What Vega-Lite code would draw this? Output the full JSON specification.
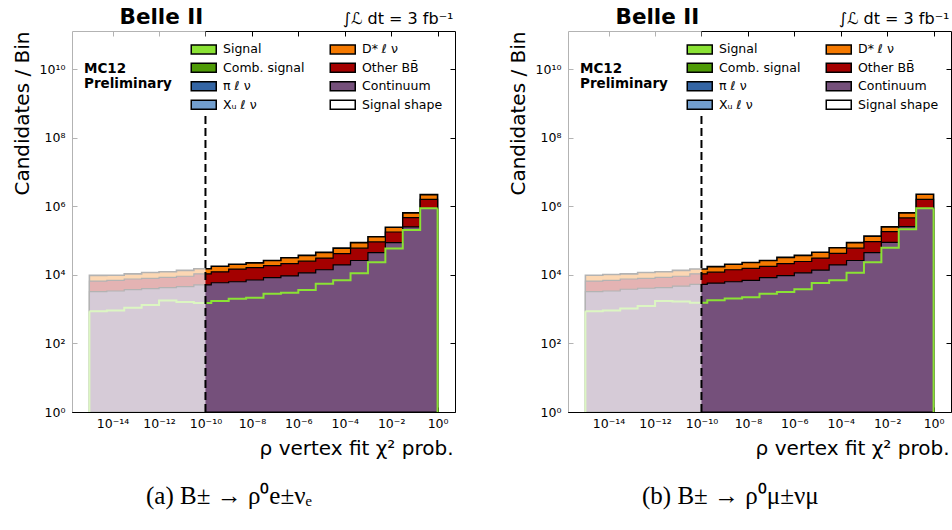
{
  "$schema": "https://vega.github.io/schema/vega-lite/v6.json",
  "background": "white",
  "padding": {"left": 11, "top": 5, "right": 0, "bottom": 0},
  "spacing": 51,
  "config": {
    "view": {"stroke": "#000", "strokeWidth": 1},
    "font": "DejaVu Sans",
    "axis": {"grid": false, "domain": false, "tickColor": "#000", "tickSize": -5, "tickWidth": 1, "labelFont": "DejaVu Sans", "labelFontSize": 12.5, "labelColor": "#000", "titleFont": "DejaVu Sans", "titleFontSize": 20, "titleFontWeight": "normal", "titleColor": "#000"}
  },
  "resolve": {"scale": {"fill": "independent"}},
  "datasets": {
    "a": [
      {"lo": 1e-15, "hi": 5.623e-15, "cont": 3236, "bb": 3371, "dst": 3054, "shape": 871},
      {"lo": 5.623e-15, "hi": 3.162e-14, "cont": 3388, "bb": 3530, "dst": 2854, "shape": 912},
      {"lo": 3.162e-14, "hi": 1.778e-13, "cont": 3715, "bb": 3871, "dst": 3129, "shape": 1096},
      {"lo": 1.778e-13, "hi": 1e-12, "cont": 3981, "bb": 3962, "dst": 3806, "shape": 1318},
      {"lo": 1e-12, "hi": 5.623e-12, "cont": 4266, "bb": 4245, "dst": 3792, "shape": 1778},
      {"lo": 5.623e-12, "hi": 3.162e-11, "cont": 4571, "bb": 4549, "dst": 4370, "shape": 1622},
      {"lo": 3.162e-11, "hi": 1.778e-10, "cont": 5129, "bb": 5586, "dst": 4421, "shape": 1514},
      {"lo": 1.778e-10, "hi": 1e-9, "cont": 5888, "bb": 6415, "dst": 5480, "shape": 1738},
      {"lo": 1e-9, "hi": 5.623e-9, "cont": 6310, "bb": 8481, "dst": 5626, "shape": 1995},
      {"lo": 5.623e-9, "hi": 3.162e-8, "cont": 7079, "bb": 9139, "dst": 6169, "shape": 2138},
      {"lo": 3.162e-8, "hi": 1.778e-7, "cont": 8318, "bb": 10303, "dst": 7682, "shape": 2818},
      {"lo": 1.778e-7, "hi": 1e-6, "cont": 9333, "bb": 12047, "dst": 10243, "shape": 3020},
      {"lo": 1e-6, "hi": 5.623e-6, "cont": 11482, "bb": 13637, "dst": 12035, "shape": 3631},
      {"lo": 5.623e-6, "hi": 3.162e-5, "cont": 14125, "bb": 16778, "dst": 14283, "shape": 5495},
      {"lo": 3.162e-5, "hi": 1.778e-4, "cont": 19498, "bb": 22189, "dst": 18569, "shape": 6918},
      {"lo": 1.778e-4, "hi": 1e-3, "cont": 26303, "bb": 33953, "dst": 26840, "shape": 11220},
      {"lo": 1e-3, "hi": 5.623e-3, "cont": 44668, "bb": 46533, "dst": 37624, "shape": 23442},
      {"lo": 5.623e-3, "hi": 3.162e-2, "cont": 87096, "bb": 90732, "dst": 67643, "shape": 58884},
      {"lo": 3.162e-2, "hi": 0.1778, "cont": 251189, "bb": 216546, "dst": 177919, "shape": 204174},
      {"lo": 0.1778, "hi": 1, "cont": 870964, "bb": 713929, "dst": 602869, "shape": 870964}
    ],
    "b": [
      {"lo": 1e-15, "hi": 5.623e-15, "cont": 3236, "bb": 3371, "dst": 3165, "shape": 871},
      {"lo": 5.623e-15, "hi": 3.162e-14, "cont": 3388, "bb": 3530, "dst": 3315, "shape": 912},
      {"lo": 3.162e-14, "hi": 1.778e-13, "cont": 3802, "bb": 3784, "dst": 3129, "shape": 1047},
      {"lo": 1.778e-13, "hi": 1e-12, "cont": 4074, "bb": 3869, "dst": 3806, "shape": 1230},
      {"lo": 1e-12, "hi": 5.623e-12, "cont": 4266, "bb": 4245, "dst": 3792, "shape": 1738},
      {"lo": 5.623e-12, "hi": 3.162e-11, "cont": 4677, "bb": 4443, "dst": 4370, "shape": 1660},
      {"lo": 3.162e-11, "hi": 1.778e-10, "cont": 5248, "bb": 5467, "dst": 4076, "shape": 1549},
      {"lo": 1.778e-10, "hi": 1e-9, "cont": 5754, "bb": 6269, "dst": 5355, "shape": 1820},
      {"lo": 1e-9, "hi": 5.623e-9, "cont": 6310, "bb": 7815, "dst": 6292, "shape": 2042},
      {"lo": 5.623e-9, "hi": 3.162e-8, "cont": 6918, "bb": 8570, "dst": 7421, "shape": 2239},
      {"lo": 3.162e-8, "hi": 1.778e-7, "cont": 8318, "bb": 9465, "dst": 8520, "shape": 2818},
      {"lo": 1.778e-7, "hi": 1e-6, "cont": 9550, "bb": 11830, "dst": 10979, "shape": 3162},
      {"lo": 1e-6, "hi": 5.623e-6, "cont": 11482, "bb": 13065, "dst": 12607, "shape": 3802},
      {"lo": 5.623e-6, "hi": 3.162e-5, "cont": 13804, "bb": 17099, "dst": 14806, "shape": 5754},
      {"lo": 3.162e-5, "hi": 1.778e-4, "cont": 19498, "bb": 23160, "dst": 19002, "shape": 6918},
      {"lo": 1.778e-4, "hi": 1e-3, "cont": 26303, "bb": 33953, "dst": 26840, "shape": 11482},
      {"lo": 1e-3, "hi": 5.623e-3, "cont": 44668, "bb": 48657, "dst": 41571, "shape": 23442},
      {"lo": 5.623e-3, "hi": 3.162e-2, "cont": 89125, "bb": 92845, "dst": 69219, "shape": 61660},
      {"lo": 3.162e-2, "hi": 0.1778, "cont": 257040, "bb": 200048, "dst": 188566, "shape": 213796},
      {"lo": 0.1778, "hi": 1, "cont": 870964, "bb": 713929, "dst": 653828, "shape": 870964}
    ]
  },
  "hconcat": [
    {
      "width": 383, "height": 381,
      "data": {"name": "a"},
      "title": {"text": "(a) B± → ρ⁰e±νₑ", "orient": "bottom", "anchor": "start", "frame": "group", "dx": 74, "offset": 26, "font": "Liberation Serif", "fontSize": 25, "fontWeight": "normal", "color": "#000"},
      "resolve": {"axis": {"x": "independent", "y": "independent"}},
      "layer": [
        {
          "transform": [
            {"fold": ["cont", "bb", "dst"], "as": ["comp", "n"]},
            {"stack": "n", "groupby": ["lo"], "as": ["c0", "c1"]},
            {"filter": {"field": "comp", "equal": "dst"}},
            {"fold": ["lo", "hi"], "as": ["edge", "ex"]}
          ],
          "mark": {"type": "area", "stroke": "#000", "strokeWidth": 1.6, "interpolate": "linear"},
          "encoding": {
            "x": {"field": "ex", "type": "quantitative", "scale": {"type": "log", "domain": [1.778e-16, 5.623], "nice": false},
                  "axis": {"orient": "bottom", "values": [1e-14, 1e-12, 1e-10, 1e-8, 1e-6, 1e-4, 1e-2, 1], "labelPadding": 10, "labelExpr": "'10' + replace(replace(replace(replace(replace(replace(replace('' + round(log(datum.value) / LN10), '-', '⁻'), '0', '⁰'), '1', '¹'), '2', '²'), '4', '⁴'), '6', '⁶'), '8', '⁸')", "title": "ρ vertex fit χ² prob.", "titleAlign": "right", "titleBaseline": "alphabetic", "titleX": 381, "titleY": 42}},
            "y": {"field": "c1", "type": "quantitative", "stack": null, "scale": {"type": "log", "domain": [1, 1.3e11], "nice": false},
                  "axis": {"orient": "left", "values": [1, 100, 10000, 1000000, 100000000, 10000000000], "labelPadding": 12, "labelExpr": "'10' + replace(replace(replace(replace(replace(replace(replace('' + round(log(datum.value) / LN10), '-', '⁻'), '0', '⁰'), '1', '¹'), '2', '²'), '4', '⁴'), '6', '⁶'), '8', '⁸')", "title": "Candidates / Bin", "titleAngle": 270, "titleAlign": "right", "titleBaseline": "alphabetic", "titleX": -44, "titleY": 0}},
            "y2": {"datum": 1},
            "order": [{"field": "lo", "type": "quantitative"}, {"field": "edge", "type": "nominal", "sort": "descending"}],
            "fill": {"field": "comp", "type": "nominal",
                     "scale": {"domain": ["sig", "comb", "pi", "xu", "dst", "bb", "cont", "shape"], "range": ["#8ae234", "#4e9a06", "#3465a4", "#729fcf", "#f57900", "#a40000", "#75507b", "#ffffff"]},
                     "legend": {"orient": "none", "legendX": 118, "legendY": 12, "columns": 2, "columnPadding": 22, "rowPadding": 2.5, "padding": 0, "title": null, "symbolType": "M-2.5,-0.9H2.5V0.9H-2.5Z", "symbolSize": 100, "symbolOffset": 7.5, "labelOffset": 13, "labelFont": "DejaVu Sans", "labelFontSize": 12.5, "labelColor": "#000", "labelLimit": 200,
                                "labelExpr": "datum.value == 'sig' ? 'Signal' : datum.value == 'comb' ? 'Comb. signal' : datum.value == 'pi' ? 'π ℓ ν' : datum.value == 'xu' ? 'Xᵤ ℓ ν' : datum.value == 'dst' ? 'D* ℓ ν' : datum.value == 'bb' ? 'Other BB\u0304' : datum.value == 'cont' ? 'Continuum' : 'Signal shape'",
                                "encode": {"symbols": {"update": {"stroke": {"signal": "datum.value == 'shape' ? '#8ae234' : '#222'"}, "strokeWidth": {"signal": "datum.value == 'shape' ? 2 : 0.8"}, "opacity": {"value": 1}}}}}}
          }
        },
        {
          "transform": [
            {"fold": ["cont", "bb", "dst"], "as": ["comp", "n"]},
            {"stack": "n", "groupby": ["lo"], "as": ["c0", "c1"]},
            {"filter": {"field": "comp", "equal": "bb"}},
            {"fold": ["lo", "hi"], "as": ["edge", "ex"]}
          ],
          "mark": {"type": "area", "stroke": "#000", "strokeWidth": 1.2, "interpolate": "linear"},
          "encoding": {
            "x": {"field": "ex", "type": "quantitative", "scale": {"type": "log", "domain": [1.778e-16, 5.623], "nice": false}, "axis": null},
            "y": {"field": "c1", "type": "quantitative", "stack": null, "scale": {"type": "log", "domain": [1, 1.3e11], "nice": false}, "axis": null},
            "y2": {"datum": 1},
            "order": [{"field": "lo", "type": "quantitative"}, {"field": "edge", "type": "nominal", "sort": "descending"}],
            "fill": {"field": "comp", "type": "nominal", "scale": {"domain": ["sig", "comb", "pi", "xu", "dst", "bb", "cont", "shape"], "range": ["#8ae234", "#4e9a06", "#3465a4", "#729fcf", "#f57900", "#a40000", "#75507b", "#ffffff"]}}
          }
        },
        {
          "transform": [
            {"fold": ["cont", "bb", "dst"], "as": ["comp", "n"]},
            {"stack": "n", "groupby": ["lo"], "as": ["c0", "c1"]},
            {"filter": {"field": "comp", "equal": "cont"}},
            {"fold": ["lo", "hi"], "as": ["edge", "ex"]}
          ],
          "mark": {"type": "area", "stroke": "#000", "strokeWidth": 1.2, "interpolate": "linear"},
          "encoding": {
            "x": {"field": "ex", "type": "quantitative", "scale": {"type": "log", "domain": [1.778e-16, 5.623], "nice": false}, "axis": null},
            "y": {"field": "c1", "type": "quantitative", "stack": null, "scale": {"type": "log", "domain": [1, 1.3e11], "nice": false}, "axis": null},
            "y2": {"datum": 1},
            "order": [{"field": "lo", "type": "quantitative"}, {"field": "edge", "type": "nominal", "sort": "descending"}],
            "fill": {"field": "comp", "type": "nominal", "scale": {"domain": ["sig", "comb", "pi", "xu", "dst", "bb", "cont", "shape"], "range": ["#8ae234", "#4e9a06", "#3465a4", "#729fcf", "#f57900", "#a40000", "#75507b", "#ffffff"]}}
          }
        },
        {
          "transform": [{"fold": ["lo", "hi"], "as": ["edge", "ex"]}],
          "mark": {"type": "line", "stroke": "#8ae234", "strokeWidth": 2, "interpolate": "linear"},
          "encoding": {
            "x": {"field": "ex", "type": "quantitative", "scale": {"type": "log", "domain": [1.778e-16, 5.623], "nice": false}, "axis": null},
            "y": {"field": "shape", "type": "quantitative", "scale": {"type": "log", "domain": [1, 1.3e11], "nice": false}, "axis": null},
            "order": [{"field": "lo", "type": "quantitative"}, {"field": "edge", "type": "nominal", "sort": "descending"}]
          }
        },
        {
          "transform": [{"fold": ["lo", "hi"], "as": ["edge", "ex"]}, {"filter": {"field": "ex", "oneOf": [1e-15, 1]}}],
          "mark": {"type": "rule", "stroke": "#8ae234", "strokeWidth": 2},
          "encoding": {
            "x": {"field": "ex", "type": "quantitative", "scale": {"type": "log", "domain": [1.778e-16, 5.623], "nice": false}, "axis": null},
            "y": {"field": "shape", "type": "quantitative", "scale": {"type": "log", "domain": [1, 1.3e11], "nice": false}, "axis": null},
            "y2": {"datum": 1}
          }
        },
        {
          "data": {"values": [{"from": 1.778e-16, "to": 1e-10}]},
          "mark": {"type": "rect", "fill": "#ffffff", "opacity": 0.7},
          "encoding": {
            "x": {"field": "from", "type": "quantitative", "scale": {"type": "log", "domain": [1.778e-16, 5.623], "nice": false}, "axis": null},
            "x2": {"field": "to"},
            "y": {"datum": 1, "type": "quantitative", "scale": {"type": "log", "domain": [1, 1.3e11], "nice": false}, "axis": null},
            "y2": {"datum": 1.3e11}
          }
        },
        {
          "data": {"values": [{"cut": 1e-10}]},
          "mark": {"type": "rule", "stroke": "#000", "strokeWidth": 2, "strokeDash": [8, 4]},
          "encoding": {
            "x": {"field": "cut", "type": "quantitative", "scale": {"type": "log", "domain": [1.778e-16, 5.623], "nice": false},
                  "axis": {"orient": "top", "values": [1e-14, 1e-12, 1e-10, 1e-8, 1e-6, 1e-4, 1e-2, 1], "labels": false, "title": "Belle II", "titleFontWeight": "bold", "titleFontSize": 21.5, "titleAlign": "left", "titleBaseline": "alphabetic", "titleX": 47, "titleY": -8}},
            "y": {"datum": 1, "type": "quantitative", "scale": {"type": "log", "domain": [1, 1.3e11], "nice": false},
                  "axis": {"orient": "right", "values": [1, 100, 10000, 1000000, 100000000, 10000000000], "labels": false, "title": "∫ℒ dt = 3 fb⁻¹", "titleFontSize": 16, "titleAngle": 0, "titleAlign": "right", "titleBaseline": "alphabetic", "titleX": -2, "titleY": -8}},
            "y2": {"datum": 5e8}
          }
        },
        {
          "data": {"values": [{"label": "MC12\nPreliminary"}]},
          "mark": {"type": "text", "align": "left", "baseline": "alphabetic", "font": "DejaVu Sans", "fontWeight": "bold", "fontSize": 13.5, "lineBreak": "\n", "lineHeight": 14.5, "color": "#000"},
          "encoding": {
            "x": {"datum": 5.85e-16, "type": "quantitative", "scale": {"type": "log", "domain": [1.778e-16, 5.623], "nice": false}, "axis": null},
            "y": {"datum": 7.55e9, "type": "quantitative", "scale": {"type": "log", "domain": [1, 1.3e11], "nice": false}, "axis": null},
            "text": {"field": "label"}
          }
        }
      ]
    },
    {
      "width": 383, "height": 381,
      "data": {"name": "b"},
      "title": {"text": "(b) B± → ρ⁰μ±νμ", "orient": "bottom", "anchor": "start", "frame": "group", "dx": 74, "offset": 26, "font": "Liberation Serif", "fontSize": 25, "fontWeight": "normal", "color": "#000"},
      "resolve": {"axis": {"x": "independent", "y": "independent"}},
      "layer": [
        {
          "transform": [
            {"fold": ["cont", "bb", "dst"], "as": ["comp", "n"]},
            {"stack": "n", "groupby": ["lo"], "as": ["c0", "c1"]},
            {"filter": {"field": "comp", "equal": "dst"}},
            {"fold": ["lo", "hi"], "as": ["edge", "ex"]}
          ],
          "mark": {"type": "area", "stroke": "#000", "strokeWidth": 1.6, "interpolate": "linear"},
          "encoding": {
            "x": {"field": "ex", "type": "quantitative", "scale": {"type": "log", "domain": [1.778e-16, 5.623], "nice": false},
                  "axis": {"orient": "bottom", "values": [1e-14, 1e-12, 1e-10, 1e-8, 1e-6, 1e-4, 1e-2, 1], "labelPadding": 10, "labelExpr": "'10' + replace(replace(replace(replace(replace(replace(replace('' + round(log(datum.value) / LN10), '-', '⁻'), '0', '⁰'), '1', '¹'), '2', '²'), '4', '⁴'), '6', '⁶'), '8', '⁸')", "title": "ρ vertex fit χ² prob.", "titleAlign": "right", "titleBaseline": "alphabetic", "titleX": 381, "titleY": 42}},
            "y": {"field": "c1", "type": "quantitative", "stack": null, "scale": {"type": "log", "domain": [1, 1.3e11], "nice": false},
                  "axis": {"orient": "left", "values": [1, 100, 10000, 1000000, 100000000, 10000000000], "labelPadding": 12, "labelExpr": "'10' + replace(replace(replace(replace(replace(replace(replace('' + round(log(datum.value) / LN10), '-', '⁻'), '0', '⁰'), '1', '¹'), '2', '²'), '4', '⁴'), '6', '⁶'), '8', '⁸')", "title": "Candidates / Bin", "titleAngle": 270, "titleAlign": "right", "titleBaseline": "alphabetic", "titleX": -44, "titleY": 0}},
            "y2": {"datum": 1},
            "order": [{"field": "lo", "type": "quantitative"}, {"field": "edge", "type": "nominal", "sort": "descending"}],
            "fill": {"field": "comp", "type": "nominal",
                     "scale": {"domain": ["sig", "comb", "pi", "xu", "dst", "bb", "cont", "shape"], "range": ["#8ae234", "#4e9a06", "#3465a4", "#729fcf", "#f57900", "#a40000", "#75507b", "#ffffff"]},
                     "legend": {"orient": "none", "legendX": 118, "legendY": 12, "columns": 2, "columnPadding": 22, "rowPadding": 2.5, "padding": 0, "title": null, "symbolType": "M-2.5,-0.9H2.5V0.9H-2.5Z", "symbolSize": 100, "symbolOffset": 7.5, "labelOffset": 13, "labelFont": "DejaVu Sans", "labelFontSize": 12.5, "labelColor": "#000", "labelLimit": 200,
                                "labelExpr": "datum.value == 'sig' ? 'Signal' : datum.value == 'comb' ? 'Comb. signal' : datum.value == 'pi' ? 'π ℓ ν' : datum.value == 'xu' ? 'Xᵤ ℓ ν' : datum.value == 'dst' ? 'D* ℓ ν' : datum.value == 'bb' ? 'Other BB\u0304' : datum.value == 'cont' ? 'Continuum' : 'Signal shape'",
                                "encode": {"symbols": {"update": {"stroke": {"signal": "datum.value == 'shape' ? '#8ae234' : '#222'"}, "strokeWidth": {"signal": "datum.value == 'shape' ? 2 : 0.8"}, "opacity": {"value": 1}}}}}}
          }
        },
        {
          "transform": [
            {"fold": ["cont", "bb", "dst"], "as": ["comp", "n"]},
            {"stack": "n", "groupby": ["lo"], "as": ["c0", "c1"]},
            {"filter": {"field": "comp", "equal": "bb"}},
            {"fold": ["lo", "hi"], "as": ["edge", "ex"]}
          ],
          "mark": {"type": "area", "stroke": "#000", "strokeWidth": 1.2, "interpolate": "linear"},
          "encoding": {
            "x": {"field": "ex", "type": "quantitative", "scale": {"type": "log", "domain": [1.778e-16, 5.623], "nice": false}, "axis": null},
            "y": {"field": "c1", "type": "quantitative", "stack": null, "scale": {"type": "log", "domain": [1, 1.3e11], "nice": false}, "axis": null},
            "y2": {"datum": 1},
            "order": [{"field": "lo", "type": "quantitative"}, {"field": "edge", "type": "nominal", "sort": "descending"}],
            "fill": {"field": "comp", "type": "nominal", "scale": {"domain": ["sig", "comb", "pi", "xu", "dst", "bb", "cont", "shape"], "range": ["#8ae234", "#4e9a06", "#3465a4", "#729fcf", "#f57900", "#a40000", "#75507b", "#ffffff"]}}
          }
        },
        {
          "transform": [
            {"fold": ["cont", "bb", "dst"], "as": ["comp", "n"]},
            {"stack": "n", "groupby": ["lo"], "as": ["c0", "c1"]},
            {"filter": {"field": "comp", "equal": "cont"}},
            {"fold": ["lo", "hi"], "as": ["edge", "ex"]}
          ],
          "mark": {"type": "area", "stroke": "#000", "strokeWidth": 1.2, "interpolate": "linear"},
          "encoding": {
            "x": {"field": "ex", "type": "quantitative", "scale": {"type": "log", "domain": [1.778e-16, 5.623], "nice": false}, "axis": null},
            "y": {"field": "c1", "type": "quantitative", "stack": null, "scale": {"type": "log", "domain": [1, 1.3e11], "nice": false}, "axis": null},
            "y2": {"datum": 1},
            "order": [{"field": "lo", "type": "quantitative"}, {"field": "edge", "type": "nominal", "sort": "descending"}],
            "fill": {"field": "comp", "type": "nominal", "scale": {"domain": ["sig", "comb", "pi", "xu", "dst", "bb", "cont", "shape"], "range": ["#8ae234", "#4e9a06", "#3465a4", "#729fcf", "#f57900", "#a40000", "#75507b", "#ffffff"]}}
          }
        },
        {
          "transform": [{"fold": ["lo", "hi"], "as": ["edge", "ex"]}],
          "mark": {"type": "line", "stroke": "#8ae234", "strokeWidth": 2, "interpolate": "linear"},
          "encoding": {
            "x": {"field": "ex", "type": "quantitative", "scale": {"type": "log", "domain": [1.778e-16, 5.623], "nice": false}, "axis": null},
            "y": {"field": "shape", "type": "quantitative", "scale": {"type": "log", "domain": [1, 1.3e11], "nice": false}, "axis": null},
            "order": [{"field": "lo", "type": "quantitative"}, {"field": "edge", "type": "nominal", "sort": "descending"}]
          }
        },
        {
          "transform": [{"fold": ["lo", "hi"], "as": ["edge", "ex"]}, {"filter": {"field": "ex", "oneOf": [1e-15, 1]}}],
          "mark": {"type": "rule", "stroke": "#8ae234", "strokeWidth": 2},
          "encoding": {
            "x": {"field": "ex", "type": "quantitative", "scale": {"type": "log", "domain": [1.778e-16, 5.623], "nice": false}, "axis": null},
            "y": {"field": "shape", "type": "quantitative", "scale": {"type": "log", "domain": [1, 1.3e11], "nice": false}, "axis": null},
            "y2": {"datum": 1}
          }
        },
        {
          "data": {"values": [{"from": 1.778e-16, "to": 1e-10}]},
          "mark": {"type": "rect", "fill": "#ffffff", "opacity": 0.7},
          "encoding": {
            "x": {"field": "from", "type": "quantitative", "scale": {"type": "log", "domain": [1.778e-16, 5.623], "nice": false}, "axis": null},
            "x2": {"field": "to"},
            "y": {"datum": 1, "type": "quantitative", "scale": {"type": "log", "domain": [1, 1.3e11], "nice": false}, "axis": null},
            "y2": {"datum": 1.3e11}
          }
        },
        {
          "data": {"values": [{"cut": 1e-10}]},
          "mark": {"type": "rule", "stroke": "#000", "strokeWidth": 2, "strokeDash": [8, 4]},
          "encoding": {
            "x": {"field": "cut", "type": "quantitative", "scale": {"type": "log", "domain": [1.778e-16, 5.623], "nice": false},
                  "axis": {"orient": "top", "values": [1e-14, 1e-12, 1e-10, 1e-8, 1e-6, 1e-4, 1e-2, 1], "labels": false, "title": "Belle II", "titleFontWeight": "bold", "titleFontSize": 21.5, "titleAlign": "left", "titleBaseline": "alphabetic", "titleX": 47, "titleY": -8}},
            "y": {"datum": 1, "type": "quantitative", "scale": {"type": "log", "domain": [1, 1.3e11], "nice": false},
                  "axis": {"orient": "right", "values": [1, 100, 10000, 1000000, 100000000, 10000000000], "labels": false, "title": "∫ℒ dt = 3 fb⁻¹", "titleFontSize": 16, "titleAngle": 0, "titleAlign": "right", "titleBaseline": "alphabetic", "titleX": -2, "titleY": -8}},
            "y2": {"datum": 5e8}
          }
        },
        {
          "data": {"values": [{"label": "MC12\nPreliminary"}]},
          "mark": {"type": "text", "align": "left", "baseline": "alphabetic", "font": "DejaVu Sans", "fontWeight": "bold", "fontSize": 13.5, "lineBreak": "\n", "lineHeight": 14.5, "color": "#000"},
          "encoding": {
            "x": {"datum": 5.85e-16, "type": "quantitative", "scale": {"type": "log", "domain": [1.778e-16, 5.623], "nice": false}, "axis": null},
            "y": {"datum": 7.55e9, "type": "quantitative", "scale": {"type": "log", "domain": [1, 1.3e11], "nice": false}, "axis": null},
            "text": {"field": "label"}
          }
        }
      ]
    }
  ]
}
